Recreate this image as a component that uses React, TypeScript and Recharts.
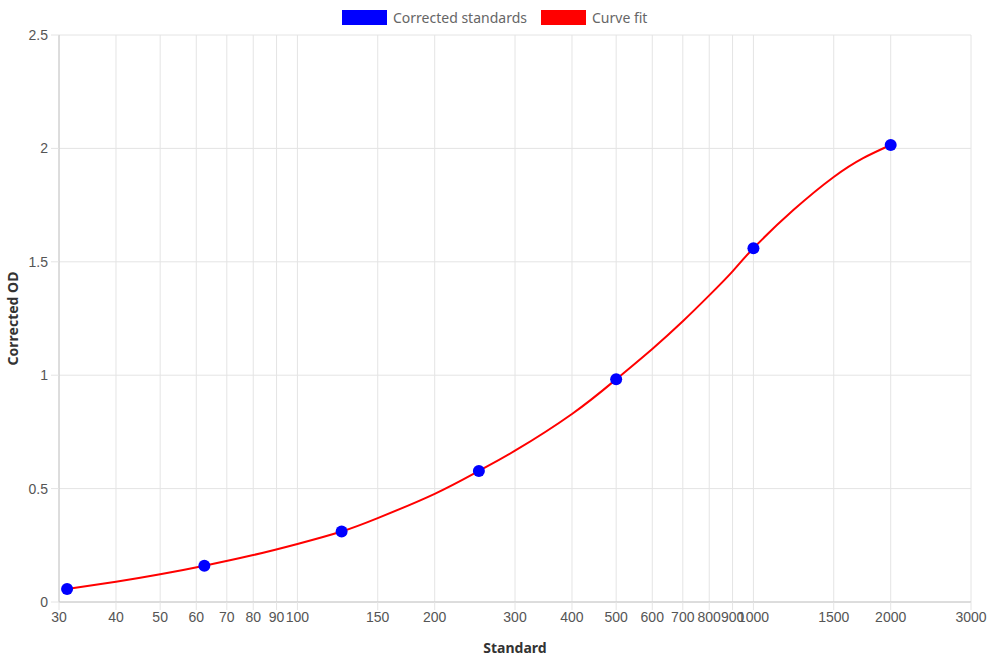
import React from 'react';
import {
  ComposedChart,
  Line,
  Scatter,
  XAxis,
  YAxis,
  CartesianGrid,
} from 'recharts';

// measured standards
const standards = [31.25, 62.5, 125, 250, 500, 1000, 2000];
const correctedOD = [0.057, 0.16, 0.311, 0.578, 0.982, 1.56, 2.015];

// fitted curve, sampled along the x range
const fitX = [
  31.25, 40, 50, 62.5, 80, 100, 125, 150, 200, 250, 300, 400, 500, 600, 700, 800, 900, 1000,
  1225, 1500, 1740, 2000,
];
const fitY = [
  0.057, 0.089, 0.122, 0.16, 0.207, 0.256, 0.311, 0.37, 0.477, 0.578, 0.667, 0.829, 0.982,
  1.116, 1.238, 1.352, 1.458, 1.56, 1.729, 1.874, 1.957, 2.015,
];

const xTicks = [
  30, 40, 50, 60, 70, 80, 90, 100, 150, 200, 300, 400, 500, 600, 700, 800, 900, 1000, 1500,
  2000, 3000,
];
const yTicks = [0, 0.5, 1, 1.5, 2, 2.5];

const pointData = standards.map((x, i) => ({ x, y: correctedOD[i] }));
const fitData = fitX.map((x, i) => ({ x, y: fitY[i] }));

const GRID = '#e4e4e4';
const tickStyle = { fontSize: 14, fill: '#555', fontFamily: '"Liberation Sans Narrow", Arial, sans-serif' };
const titleFont = '"Noto Sans", "Open Sans", sans-serif';

const LegendItem = ({ color, label, left }: { color: string; label: string; left: number }) => (
  <div style={{ position: 'absolute', top: 9, left, display: 'flex', alignItems: 'center', height: 16 }}>
    <span style={{ width: 45, height: 15, background: color, display: 'inline-block', marginRight: 6 }} />
    <span style={{ fontSize: 14, color: '#666', fontFamily: titleFont, whiteSpace: 'nowrap' }}>{label}</span>
  </div>
);

const Dot = (props: any) => {
  const { cx, cy } = props;
  return <circle cx={cx} cy={cy} r={6} fill='#0000ff' />;
};

export default function App() {
  return (
    <div style={{ position: 'fixed', left: 0, top: 0, width: 990, height: 660, background: '#fff' }}>
      <LegendItem color='#0000ff' label='Corrected standards' left={342} />
      <LegendItem color='#ff0000' label='Curve fit' left={541} />
      <ComposedChart width={990} height={660} margin={{ top: 35, right: 19, bottom: 0, left: 0 }}>
        <CartesianGrid stroke={GRID} />
        <XAxis
          dataKey='x'
          type='number'
          scale='log'
          domain={[30, 3000]}
          ticks={xTicks}
          interval={0}
          allowDataOverflow
          height={58}
          tick={tickStyle}
          tickSize={8}
          tickMargin={2}
          tickLine={{ stroke: GRID }}
          axisLine={{ stroke: '#c8c8c8' }}
          label={{
            value: 'Standard',
            position: 'insideBottom',
            offset: 7,
            style: { fontSize: 14, fontWeight: 700, fill: '#333', fontFamily: titleFont },
          }}
        />
        <YAxis
          type='number'
          domain={[0, 2.5]}
          ticks={yTicks}
          width={59}
          tick={tickStyle}
          tickSize={8}
          tickMargin={3}
          tickLine={{ stroke: GRID }}
          axisLine={{ stroke: '#c8c8c8' }}
          label={(p: any) => {
            const vb = p.viewBox;
            const cy = vb.y + vb.height / 2;
            return (
              <text
                x={18}
                y={cy}
                transform={`rotate(-90 18 ${cy})`}
                textAnchor='middle'
                style={{ fontSize: 14, fontWeight: 700, fill: '#333', fontFamily: titleFont }}
              >
                Corrected OD
              </text>
            );
          }}
        />
        <Line
          data={fitData}
          dataKey='y'
          type='natural'
          stroke='#ff0000'
          strokeWidth={2}
          dot={false}
          activeDot={false}
          isAnimationActive={false}
        />
        <Scatter data={pointData} dataKey='y' shape={Dot} isAnimationActive={false} />
      </ComposedChart>
    </div>
  );
}
